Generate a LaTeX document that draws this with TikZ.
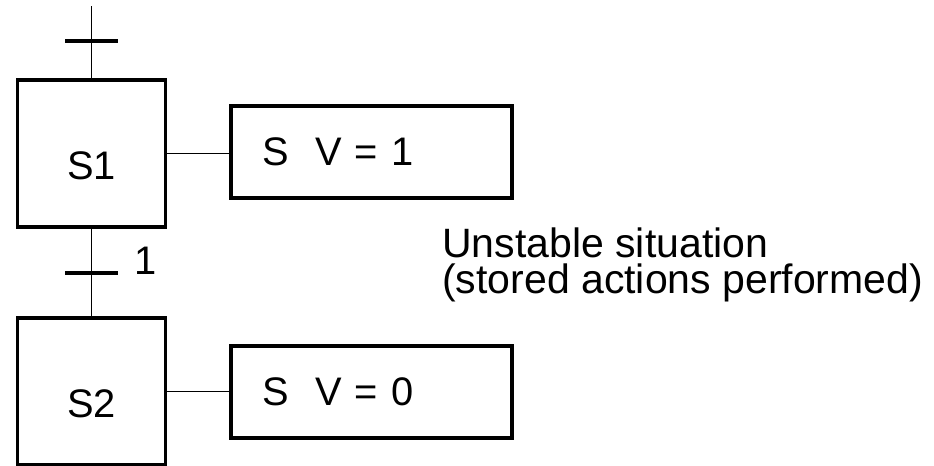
\documentclass[tikz,border=0pt]{standalone}
\usepackage{fontspec}
\setmainfont{Liberation Sans}
\usetikzlibrary{positioning}
\newcommand{\px}{0.03cm}
\tikzset{
  grtext/.style={font=\fontsize{34}{30}\selectfont},
  grstep/.style={
    grtext, draw, line width=3.4pt, minimum width=148*\px,
    minimum height=147*\px, inner sep=0pt, text height=45pt, text depth=0pt},
  graction/.style={
    grtext, draw, line width=3.4pt, minimum width=281*\px,
    minimum height=92*\px, inner xsep=31*\px, inner ysep=0pt,
    text width=219*\px, align=left},
  grtrans/.style={
    fill, draw=none, minimum width=53*\px, minimum height=4.5*\px,
    inner sep=0pt},
  grlink/.style={line width=1.1pt},
  grnote/.style={font=\fontsize{35}{30.5}\selectfont, align=left,
    inner sep=0pt},
}

\begin{document}
\begin{tikzpicture}[x=\px, y=-\px]
\useasboundingbox (0,0) rectangle (934,465);

% Steps and their stored actions.
\node[grstep] (s1) at (91.5,153.5) {S1};
\node[grstep] (s2) at (91.5,391.5) {S2};
\node[graction] (a1) at (371.5,152) {S~~V = 1};
\node[graction] (a2) at (371.5,391.5) {S~~V = 0};

% Transitions.
\coordinate (top) at (91.5,6);
\node[grtrans] (t0) at (91.5,41) {};
\node[grtrans] (t1) at (91.5,273) {};
\node[grtext, inner sep=0pt] (t1lab) at (146,261) {1};

\draw[grlink] (top) -- (s1.north);
\draw[grlink] (s1.south) -- (s2.north);
\draw[grlink] (s1.east) -- (s1.east -| a1.west);
\draw[grlink] (s2.east) -- (a2.west);

% Comment on the situation.
\node[grnote, anchor=west] (note) at (442,265)
  {Unstable situation\\(stored actions performed)};

\end{tikzpicture}
\end{document}
